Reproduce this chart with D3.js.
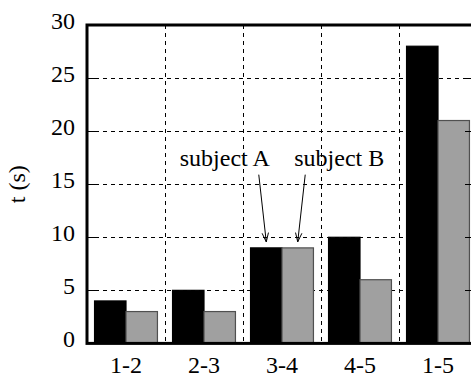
<!DOCTYPE html>
<html>
<head>
<meta charset="utf-8">
<script src="https://cdn.jsdelivr.net/npm/d3@7"></script>
<style>
  html, body { margin: 0; padding: 0; background: #fff; }
  svg { display: block; }
  text { font-family: "Liberation Serif", "Times New Roman", serif; fill: #000; }
</style>
</head>
<body>
<svg id="chart" width="471" height="374"></svg>
<script>
// Transition times per route segment for two subjects
const segments = ["1-2", "2-3", "3-4", "4-5", "1-5"];
const seriesNames = ["subject A", "subject B"];
const subjectA = [4, 5, 9, 10, 28];
const subjectB = [3, 3, 9, 6, 21];
const yTicks = [0, 5, 10, 15, 20, 25, 30];
const yLabel = "t (s)";

// Callouts pointing at the 3-4 bars
const callouts = [
  { text: "subject A", segment: "3-4", series: "subject A", value: 9, anchor: "end" },
  { text: "subject B", segment: "3-4", series: "subject B", value: 9, anchor: "start" }
];

const rows = segments.map((s, i) => ({ segment: s, values: [subjectA[i], subjectB[i]] }));

const FS = 24;
const svg = d3.select("#chart");
const margin = { left: 87, right: -6, top: 25, bottom: 30.6 };
const W = 471, H = 374;
const x0 = margin.left, x1 = W - margin.right;
const yTop = margin.top, yBot = H - margin.bottom;

const x = d3.scaleBand().domain(segments).range([x0, x1]);
const xs = d3.scaleBand().domain(seriesNames).range([0, x.bandwidth()]).paddingOuter(0.24);
const y = d3.scaleLinear().domain([0, 30]).range([yBot, yTop]);

const fills = { "subject A": "#000000", "subject B": "#a0a0a0" };
const strokes = { "subject A": "#000000", "subject B": "#505050" };

// Horizontal dashed grid
svg.append("g").selectAll("line")
  .data(yTicks.filter(v => v > 0 && v < 30))
  .join("line")
  .attr("x1", x0).attr("x2", x1)
  .attr("y1", d => Math.round(y(d)) + 0.5).attr("y2", d => Math.round(y(d)) + 0.5)
  .attr("stroke", "#000").attr("stroke-width", 1)
  .attr("stroke-dasharray", "4,4");

// Vertical dashed grid between segments
svg.append("g").selectAll("line")
  .data(segments.slice(0, -1))
  .join("line")
  .attr("x1", d => Math.round(x(d) + x.bandwidth()) + 0.5)
  .attr("x2", d => Math.round(x(d) + x.bandwidth()) + 0.5)
  .attr("y1", yTop).attr("y2", yBot)
  .attr("stroke", "#000").attr("stroke-width", 1)
  .attr("stroke-dasharray", "4,4");

// Bars
const groups = svg.append("g").selectAll("g")
  .data(rows)
  .join("g")
  .attr("transform", d => `translate(${x(d.segment)},0)`);

groups.selectAll("rect")
  .data(d => d.values.map((v, i) => ({ series: seriesNames[i], value: v })))
  .join("rect")
  .attr("x", d => xs(d.series))
  .attr("width", xs.bandwidth())
  .attr("y", d => y(d.value))
  .attr("height", d => yBot - y(d.value))
  .attr("fill", d => fills[d.series])
  .attr("stroke", d => strokes[d.series])
  .attr("stroke-width", 1.2);

// Left axis labels
const leftAxis = d3.axisLeft(y).tickValues(yTicks).tickSize(0).tickPadding(12);
const gl = svg.append("g").attr("transform", `translate(${x0},0)`).call(leftAxis);
gl.select(".domain").remove();
gl.selectAll("text")
  .attr("font-size", FS)
  .attr("dy", "0.13em");

// Short solid tick marks on left and right sides
const tickLen = 12;
const innerTicks = yTicks.filter(v => v > 0 && v < 30);
svg.append("g").selectAll("line")
  .data(innerTicks)
  .join("line")
  .attr("x1", x0).attr("x2", x0 + tickLen)
  .attr("y1", d => Math.round(y(d)) + 0.5).attr("y2", d => Math.round(y(d)) + 0.5)
  .attr("stroke", "#000").attr("stroke-width", 1);
svg.append("g").selectAll("line")
  .data(innerTicks)
  .join("line")
  .attr("x1", x1 - tickLen).attr("x2", x1)
  .attr("y1", d => Math.round(y(d)) + 0.5).attr("y2", d => Math.round(y(d)) + 0.5)
  .attr("stroke", "#000").attr("stroke-width", 1);

// Bottom axis labels
const bottomAxis = d3.axisBottom(x).tickSize(0);
const gb = svg.append("g").attr("transform", `translate(0,${yBot})`).call(bottomAxis);
gb.select(".domain").remove();
gb.selectAll("text")
  .attr("font-size", FS)
  .attr("y", 29.4)
  .attr("dy", 0);

// Plot frame
svg.append("rect")
  .attr("x", x0).attr("y", yTop)
  .attr("width", x1 - x0).attr("height", yBot - yTop)
  .attr("fill", "none").attr("stroke", "#000").attr("stroke-width", 3);

// Y axis title
svg.append("text")
  .attr("transform", `translate(25,${(yTop + yBot) / 2}) rotate(-90)`)
  .attr("text-anchor", "middle")
  .attr("font-size", FS)
  .text(yLabel);

// Callouts with arrows
const textBaseline = y(16.7);
const arrowStartY = y(15.9);
callouts.forEach(c => {
  const cx = x(c.segment) + xs(c.series) + xs.bandwidth() / 2;
  const tipY = y(c.value) - 6;
  const dir = c.anchor === "end" ? 1 : -1;
  const tx = cx + 3.5 * dir;
  const sx = cx - 7.5 * dir;
  svg.append("text")
    .attr("x", tx).attr("y", textBaseline)
    .attr("text-anchor", c.anchor)
    .attr("font-size", FS)
    .text(c.text);
  svg.append("line")
    .attr("x1", sx).attr("y1", arrowStartY)
    .attr("x2", cx).attr("y2", tipY)
    .attr("stroke", "#000").attr("stroke-width", 1);
  const ang = Math.atan2(tipY - arrowStartY, cx - sx);
  const L = 9, Wd = 3.2;
  const bx = cx - L * Math.cos(ang), by = tipY - L * Math.sin(ang);
  const px = -Math.sin(ang) * Wd, py = Math.cos(ang) * Wd;
  svg.append("path")
    .attr("d", `M${bx + px},${by + py}L${cx},${tipY}L${bx - px},${by - py}`)
    .attr("fill", "none").attr("stroke", "#000").attr("stroke-width", 1);
});
</script>
</body>
</html>
